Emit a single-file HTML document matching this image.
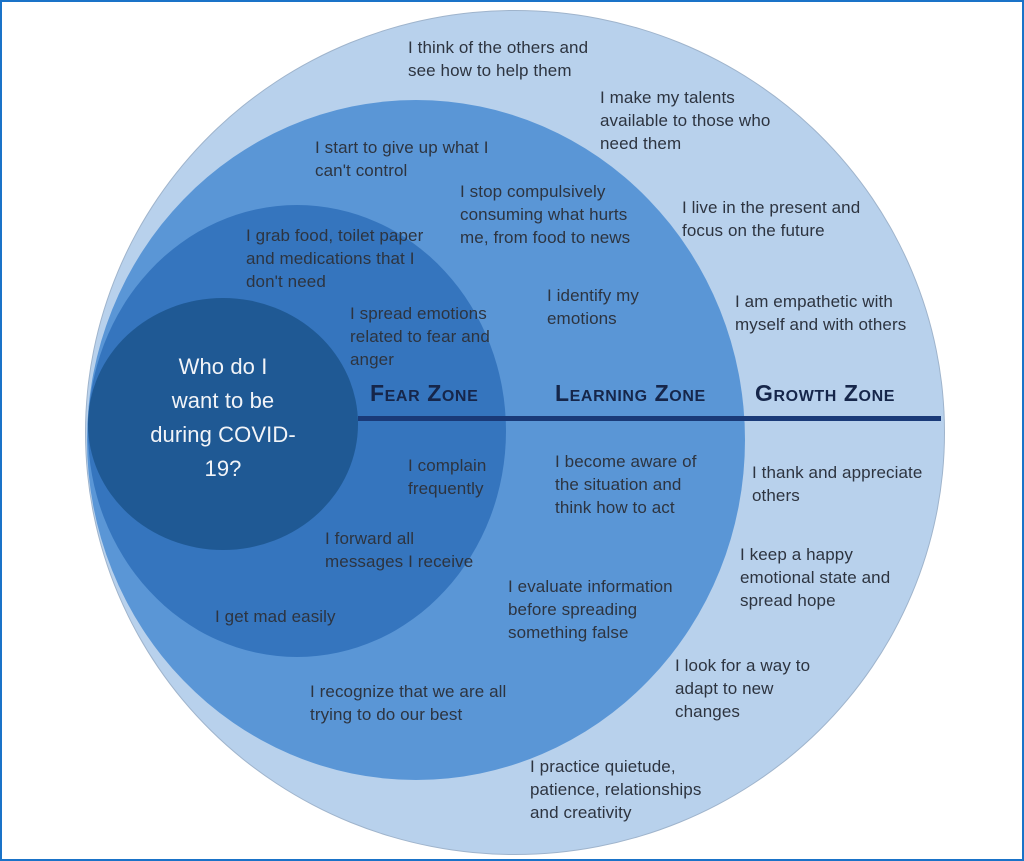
<!DOCTYPE html>
<html><head><meta charset="utf-8"><style>
body{margin:0;width:1024px;height:861px;overflow:hidden;background:#fff;position:relative;font-family:"Liberation Sans",sans-serif}
.frame{position:absolute;left:0;top:0;width:1020px;height:857px;border:2px solid #1a73c8}
.c{position:absolute;border-radius:50%}
.t{position:absolute;font-size:17px;line-height:23px;color:#2d3440;white-space:nowrap;letter-spacing:0.1px}
.z{position:absolute;font-size:23px;font-weight:bold;color:#16264a;white-space:nowrap;font-variant:small-caps;letter-spacing:0.6px}
</style></head><body>
<div class="frame"></div>
<div class="c" style="left:85px;top:10px;width:860px;height:845px;background:#b8d1ec;border:1px solid #9fb4cc;box-sizing:border-box"></div>
<div class="c" style="left:87px;top:100px;width:658px;height:680px;background:#5a96d6"></div>
<div class="c" style="left:88px;top:205px;width:418px;height:452px;background:#3575be"></div>
<div class="c" style="left:88px;top:298px;width:270px;height:252px;background:#1f5994"></div>
<div style="position:absolute;left:358px;top:416px;width:583px;height:5px;background:#1a3a78"></div>
<div class="t" style="left:88px;top:350px;width:270px;text-align:center;font-size:22px;line-height:34px;color:#f2f4f8">Who do I<br>want to be<br>during COVID-<br>19?</div>
<div class="z" style="left:370px;top:380px">Fear Zone</div>
<div class="z" style="left:555px;top:380px">Learning Zone</div>
<div class="z" style="left:755px;top:380px">Growth Zone</div>
<div class="t" style="left:408px;top:36px">I think of the others and<br>see how to help them</div>
<div class="t" style="left:600px;top:86px">I make my talents<br>available to those who<br>need them</div>
<div class="t" style="left:315px;top:136px">I start to give up what I<br>can't control</div>
<div class="t" style="left:460px;top:180px">I stop compulsively<br>consuming what hurts<br>me, from food to news</div>
<div class="t" style="left:682px;top:196px">I live in the present and<br>focus on the future</div>
<div class="t" style="left:246px;top:224px">I grab food, toilet paper<br>and medications that I<br>don't need</div>
<div class="t" style="left:547px;top:284px">I identify my<br>emotions</div>
<div class="t" style="left:735px;top:290px">I am empathetic with<br>myself and with others</div>
<div class="t" style="left:350px;top:302px">I spread emotions<br>related to fear and<br>anger</div>
<div class="t" style="left:408px;top:454px">I complain<br>frequently</div>
<div class="t" style="left:555px;top:450px">I become aware of<br>the situation and<br>think how to act</div>
<div class="t" style="left:752px;top:461px">I thank and appreciate<br>others</div>
<div class="t" style="left:325px;top:527px">I forward all<br>messages I receive</div>
<div class="t" style="left:740px;top:543px">I keep a happy<br>emotional state and<br>spread hope</div>
<div class="t" style="left:508px;top:575px">I evaluate information<br>before spreading<br>something false</div>
<div class="t" style="left:215px;top:605px">I get mad easily</div>
<div class="t" style="left:675px;top:654px">I look for a way to<br>adapt to new<br>changes</div>
<div class="t" style="left:310px;top:680px">I recognize that we are all<br>trying to do our best</div>
<div class="t" style="left:530px;top:755px">I practice quietude,<br>patience, relationships<br>and creativity</div>
</body></html>
